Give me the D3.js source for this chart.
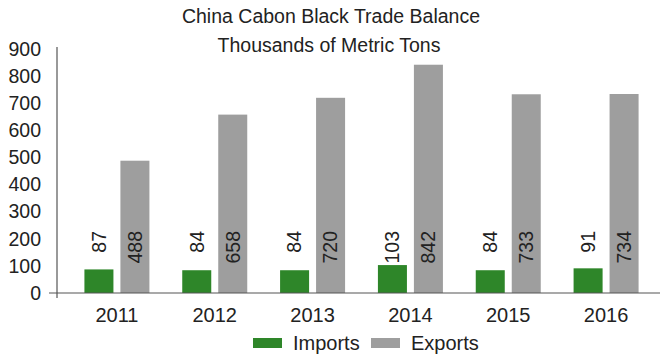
<!DOCTYPE html>
<html>
<head>
<meta charset="utf-8">
<script src="https://cdn.jsdelivr.net/npm/d3@7"></script>
<style>
  body { margin: 0; background: #fff; }
  text { font-family: "Liberation Sans", Arial, sans-serif; fill: #222; }
</style>
</head>
<body>
<script>
var years = ["2011", "2012", "2013", "2014", "2015", "2016"];
var seriesNames = ["Imports", "Exports"];
var imports = [87, 84, 84, 103, 84, 91];
var exports = [488, 658, 720, 842, 733, 734];
var yTicks = [0, 100, 200, 300, 400, 500, 600, 700, 800, 900];
var colors = ["#2e8629", "#9e9e9e"];

var width = 667, height = 356;

var svg = d3.select("body").append("svg")
    .attr("width", width)
    .attr("height", height);

var x0 = d3.scaleBand().domain(years).range([68, 655]);
var x1 = d3.scaleBand().domain(seriesNames).range([0, 65]).paddingInner(0.194);
var y = d3.scaleLinear().domain([0, 900]).range([293, 49]);
var color = d3.scaleOrdinal().domain(seriesNames).range(colors);

var rows = years.map(function(yr, i) {
  return { year: yr, values: [
    { name: "Imports", value: imports[i] },
    { name: "Exports", value: exports[i] }
  ]};
});

// titles
svg.append("text").text("China Cabon Black Trade Balance")
    .attr("x", 331).attr("y", 16)
    .attr("dy", "0.35em")
    .attr("text-anchor", "middle")
    .style("font-size", "19.5px");

svg.append("text").text("Thousands of Metric Tons")
    .attr("x", 329).attr("y", 45)
    .attr("dy", "0.35em")
    .attr("text-anchor", "middle")
    .style("font-size", "19.5px");

// y tick labels
svg.selectAll(".ytick").data(yTicks).enter().append("text")
    .attr("class", "ytick")
    .attr("x", 41)
    .attr("y", function(d) { return y(d); })
    .attr("dy", "0.35em")
    .attr("text-anchor", "end")
    .style("font-size", "19.5px")
    .text(function(d) { return d; });

// bars
var groups = svg.selectAll(".group").data(rows).enter().append("g")
    .attr("class", "group")
    .attr("transform", function(d) {
      return "translate(" + (x0(d.year) + x0.bandwidth() / 2 - 32.5) + ",0)";
    });

groups.selectAll("rect").data(function(d) { return d.values; }).enter().append("rect")
    .attr("x", function(d) { return x1(d.name); })
    .attr("y", function(d) { return y(d.value); })
    .attr("width", x1.bandwidth())
    .attr("height", function(d) { return y(0) - y(d.value); })
    .style("fill", function(d) { return color(d.name); });

groups.selectAll(".lbl").data(function(d) { return d.values; }).enter().append("text")
    .attr("class", "lbl")
    .attr("transform", function(d) {
      return "translate(" + (x1(d.name) + x1.bandwidth() / 2) + "," + (y(0) - 62) + ") rotate(-90)";
    })
    .attr("dy", "0.35em")
    .attr("text-anchor", "end")
    .style("font-size", "19.5px")
    .text(function(d) { return d.value; });

// axes lines
svg.append("line")
    .attr("x1", 49).attr("x2", 660)
    .attr("y1", y(0)).attr("y2", y(0))
    .style("stroke", "#555").style("stroke-width", 1.2);
svg.append("line")
    .attr("x1", 57).attr("x2", 57)
    .attr("y1", 47).attr("y2", 298)
    .style("stroke", "#555").style("stroke-width", 1.2);

// year labels
svg.selectAll(".xlab").data(years).enter().append("text")
    .attr("class", "xlab")
    .attr("x", function(d) { return x0(d) + x0.bandwidth() / 2; })
    .attr("y", 315)
    .attr("dy", "0.35em")
    .attr("text-anchor", "middle")
    .style("font-size", "20px")
    .text(function(d) { return d; });

// legend
var legendX = [253, 371];
var legend = svg.selectAll(".legend").data(seriesNames).enter().append("g")
    .attr("class", "legend")
    .attr("transform", function(d, i) { return "translate(" + legendX[i] + ",338)"; });
legend.append("rect")
    .attr("width", 29).attr("height", 10)
    .style("fill", function(d) { return color(d); });
legend.append("text")
    .attr("x", 40).attr("y", 5)
    .attr("dy", "0.35em")
    .style("font-size", "20px")
    .text(function(d) { return d; });
</script>
</body>
</html>
